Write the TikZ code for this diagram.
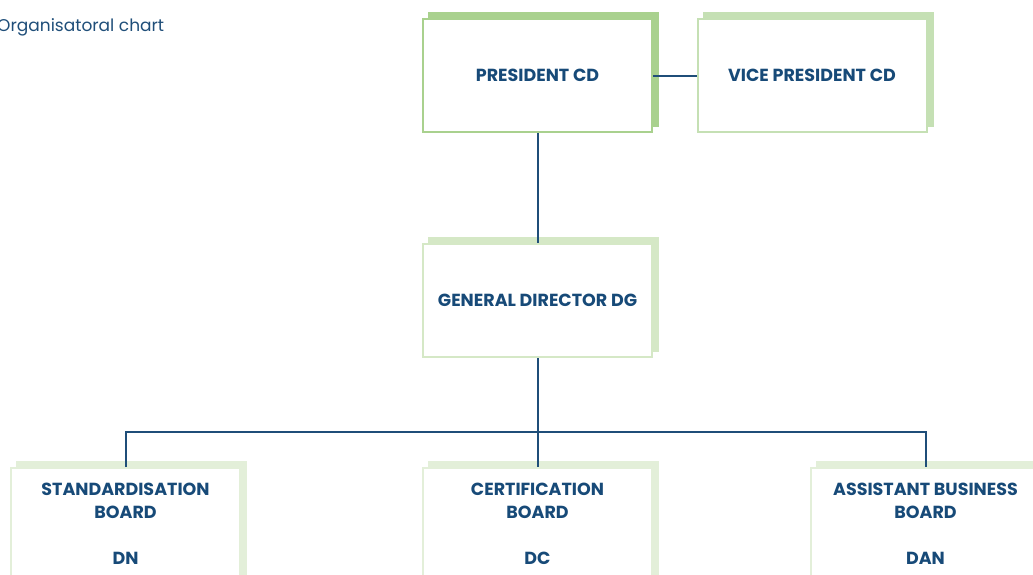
\documentclass[tikz,border=0pt]{standalone}
\usepackage{fontspec}
\setmainfont{Poppins}
\usetikzlibrary{backgrounds}
\definecolor{navy}{HTML}{1F4E79}
\definecolor{inkblue}{HTML}{174A78}
\definecolor{greenA}{HTML}{A9D18E}
\definecolor{greenB}{HTML}{C5E0B4}
\definecolor{greenC}{HTML}{D5E8C6}
\definecolor{greenD}{HTML}{E3EFD9}
\tikzset{
  orgbox/.style={draw=#1, line width=2pt, fill=white, minimum width=229pt,
    minimum height=113pt, inner sep=0pt},
  boxlabel/.style={text=inkblue, font=\bfseries\fontsize{17.5}{23}\selectfont,
    align=center, inner sep=0pt},
  link/.style={draw=navy, line width=2pt},
}
% shifted solid copy of a box, drawn behind it
\newcommand{\boxshade}[2]{%
  \begin{pgfonlayer}{background}
    \fill[#2] ([shift={(6,-6)}]#1.south west) rectangle ([shift={(6,-6)}]#1.north east);
  \end{pgfonlayer}}
\begin{document}
\begin{tikzpicture}[x=1pt,y=-1pt]
  \useasboundingbox (0,0) rectangle (1033,574);
  \clip (0,0) rectangle (1033,574);

  \node[anchor=base west, inner sep=0pt, text=navy, font=\fontsize{17}{20}\selectfont]
    (title) at (-3,31) {Organisatoral chart};

  % top level
  \node[orgbox=greenA] (pres) at (537.5,75.5) {};
  \node[boxlabel] (presT) at (pres) {PRESIDENT CD};
  \node[orgbox=greenB] (vice) at (812,75.5) {};
  \node[boxlabel] (viceT) at (vice) {VICE PRESIDENT CD};

  % second level
  \node[orgbox=greenC] (dg) at (537.5,300.5) {};
  \node[boxlabel] (dgT) at (dg) {GENERAL DIRECTOR DG};

  % boards
  \node[orgbox=greenD] (dn) at (125.5,524.5) {};
  \node[boxlabel, anchor=north] (dnT) at ([yshift=-16pt]dn.north) {STANDARDISATION\\BOARD\\[23pt]DN};
  \node[orgbox=greenD] (dc) at (537.5,524.5) {};
  \node[boxlabel, anchor=north] (dcT) at ([yshift=-16pt]dc.north) {CERTIFICATION\\BOARD\\[23pt]DC};
  \node[orgbox=greenD] (dan) at (925.5,524.5) {};
  \node[boxlabel, anchor=north] (danT) at ([yshift=-16pt]dan.north) {ASSISTANT BUSINESS\\BOARD\\[23pt]DAN};

  \boxshade{pres}{greenA}
  \boxshade{vice}{greenB}
  \boxshade{dg}{greenC}
  \boxshade{dn}{greenD}
  \boxshade{dc}{greenD}
  \boxshade{dan}{greenD}

  % connectors
  \coordinate (bus) at (537.5,432);
  \draw[link] (pres.east) -- (vice.west);
  \draw[link] (pres.south) -- (dg.north);
  \draw[link] (dg.south) -- (bus);
  \draw[link] (dn.north) -- (dn.north |- bus) -- (dan.north |- bus) -- (dan.north);
  \draw[link] (bus) -- (dc.north);
\end{tikzpicture}
\end{document}
